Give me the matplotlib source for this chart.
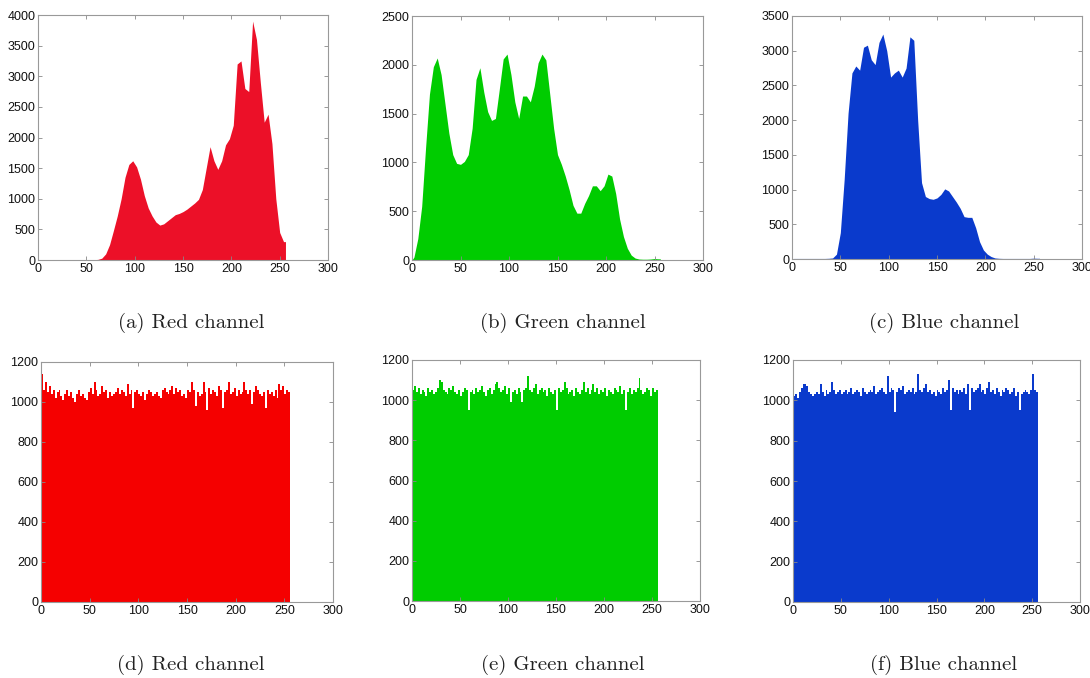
import numpy as np
import matplotlib.pyplot as plt

# Histogramas de la imagen original (bins de 4 niveles)
red_orig = [0, 0, 0, 0, 0, 0, 0, 0, 0, 0, 0, 0, 0, 0, 5, 10,
            30, 100, 250, 480, 720, 1000, 1350, 1560, 1620, 1520, 1320, 1050, 850, 720, 620, 570,
            590, 640, 690, 740, 760, 790, 830, 880, 930, 990, 1150, 1500, 1850, 1620, 1480, 1620,
            1880, 1980, 2200, 3200, 3250, 2800, 2750, 3900, 3600, 2900, 2250, 2380, 1900, 1000, 450, 300]

green_orig = [30, 220, 550, 1150, 1700, 1980, 2070, 1900, 1600, 1300, 1080, 990, 980, 1010, 1080, 1350,
              1850, 1970, 1720, 1520, 1430, 1450, 1750, 2060, 2110, 1900, 1620, 1450, 1680, 1680, 1620, 1780,
              2020, 2110, 2050, 1700, 1350, 1080, 980, 860, 720, 560, 480, 480, 580, 660, 760, 760,
              710, 760, 880, 860, 680, 420, 240, 120, 50, 20, 10, 8, 8, 10, 15, 12]

blue_orig = [8, 8, 8, 8, 8, 8, 8, 8, 8, 10, 15, 70, 380, 1150, 2100, 2680,
             2780, 2720, 3050, 3080, 2870, 2800, 3120, 3240, 3000, 2620, 2680, 2720, 2620, 2750, 3200, 3150,
             2000, 1100, 900, 870, 860, 880, 930, 1010, 980, 900, 820, 730, 610, 600, 600, 450,
             250, 130, 70, 35, 15, 10, 8, 8, 8, 8, 8, 8, 8, 8, 12, 10]

# Histogramas de la imagen cifrada (bins de 2 niveles)
red_enc = [1140, 1060, 1100, 1050, 1080, 1040, 1060, 1020, 1050, 1060, 1030, 1010, 1040, 1060, 1030, 1050,
           1020, 1000, 1040, 1060, 1030, 1040, 1020, 1010, 1050, 1070, 1040, 1100, 1060, 1030, 1040, 1080,
           1050, 1060, 1020, 1050, 1030, 1040, 1050, 1070, 1040, 1060, 1050, 1030, 1090, 1040, 1060, 970,
           1050, 1060, 1040, 1030, 1050, 1010, 1040, 1060, 1050, 1030, 1040, 1050, 1030, 1020, 1060, 1070,
           1050, 1040, 1060, 1080, 1040, 1070, 1050, 1060, 1030, 1040, 1020, 1060, 1050, 1100, 1060, 980,
           1050, 1030, 1040, 1100, 1050, 960, 1070, 1040, 1060, 1050, 1030, 1080, 1060, 970, 1050, 1060,
           1100, 1040, 1050, 1070, 1030, 1060, 1040, 1050, 1100, 1060, 1040, 1060, 990, 1050, 1080, 1060,
           1040, 1030, 1050, 970, 1060, 1040, 1050, 1030, 1060, 1020, 1090, 1060, 1080, 1040, 1060, 1050]

green_enc = [1050, 1070, 1040, 1060, 1030, 1050, 1040, 1020, 1060, 1040, 1050, 1030, 1040, 1060, 1100, 1090,
             1050, 1040, 1030, 1060, 1050, 1070, 1040, 1030, 1050, 1020, 1040, 1060, 1050, 950, 1040, 1050,
             1030, 1060, 1040, 1050, 1070, 1040, 1020, 1050, 1060, 1030, 1050, 1080, 1090, 1060, 1040, 1050,
             1070, 1030, 1060, 990, 1040, 1050, 1030, 1060, 1040, 990, 1050, 1060, 1120, 1050, 1040, 1060,
             1080, 1030, 1050, 1060, 1040, 1050, 1020, 1060, 1040, 1030, 1050, 950, 1060, 1040, 1050, 1090,
             1060, 1030, 1040, 1050, 1020, 1060, 1040, 1030, 1050, 1090, 1040, 1060, 1030, 1050, 1080, 1040,
             1060, 1030, 1050, 1040, 1060, 1020, 1050, 1040, 1030, 1060, 1050, 1040, 1070, 1030, 1050, 950,
             1040, 1060, 1030, 1050, 1040, 1060, 1110, 1050, 1030, 1040, 1060, 1050, 1020, 1060, 1040, 1050]

blue_enc = [1020, 1030, 1010, 1040, 1060, 1080, 1080, 1070, 1040, 1030, 1020, 1030, 1040, 1030, 1080, 1040,
            1020, 1050, 1030, 1040, 1090, 1050, 1030, 1040, 1050, 1030, 1040, 1050, 1030, 1040, 1060, 1030,
            1040, 1050, 1040, 1020, 1060, 1040, 1030, 1040, 1050, 1040, 1070, 1030, 1040, 1050, 1060, 1040,
            1030, 1120, 1040, 1060, 1050, 940, 1040, 1060, 1050, 1070, 1030, 1040, 1050, 1040, 1060, 1030,
            1040, 1130, 1050, 1040, 1060, 1080, 1040, 1050, 1030, 1040, 1020, 1050, 1040, 1030, 1060, 1040,
            1050, 1100, 950, 1060, 1040, 1050, 1030, 1050, 1040, 1060, 1030, 1080, 950, 1060, 1040, 1050,
            1060, 1080, 1040, 1050, 1030, 1060, 1090, 1040, 1050, 1030, 1060, 1040, 1020, 1050, 1040, 1060,
            1050, 1030, 1040, 1060, 1020, 1040, 950, 1030, 1040, 1050, 1040, 1030, 1050, 1130, 1050, 1040]

captions = ['(a) Red channel', '(b) Green channel', '(c) Blue channel',
            '(d) Red channel', '(e) Green channel', '(f) Blue channel']
colors = ['#ec1028', '#00cc00', '#0a3acc', '#f50000', '#00cc00', '#0a3acc']
series = [red_orig, green_orig, blue_orig, red_enc, green_enc, blue_enc]
ytops = [4000, 2500, 3500, 1200, 1200, 1200]
ysteps = [500, 500, 500, 200, 200, 200]

# posiciones de los ejes en píxeles (izq, der, arriba, abajo)
boxes = [(38, 328, 15, 260), (412, 703, 16, 260), (792, 1082, 16, 259),
         (41, 333, 362, 602), (412, 700, 360, 601), (793, 1080, 360, 602)]
cap_pos = [(191, 323), (563, 323), (944, 323), (191, 665), (563, 665), (944, 665)]

W, H = 1090, 678
fig = plt.figure(figsize=(W / 100, H / 100), dpi=100)

for i in range(6):
    l, r, t, b = boxes[i]
    ax = fig.add_axes([l / W, 1 - b / H, (r - l) / W, (b - t) / H])
    vals = np.array(series[i], dtype=float)
    w = 256 / len(vals)
    x = np.arange(len(vals)) * w
    if i < 3:
        # arriba: área por los centros de cada bin, corte vertical en 256
        xc = np.concatenate([[0], x + w / 2, [256, 256]])
        yc = np.concatenate([[0], vals, [vals[-1], 0]])
        ax.fill_between(xc, yc, 0, color=colors[i], linewidth=0)
    else:
        ax.bar(x, vals, width=w, align='edge', color=colors[i], edgecolor='none', linewidth=0)
    ax.set_xlim(0, 300)
    ax.set_ylim(0, ytops[i])
    ax.set_xticks(np.arange(0, 301, 50))
    ax.set_yticks(np.arange(0, ytops[i] + 1, ysteps[i]))
    ax.tick_params(direction='in', length=3, width=0.6, color='#888888', top=True, right=True,
                   labelsize=9, labelcolor='#111111', pad=2)
    for lab in ax.get_xticklabels() + ax.get_yticklabels():
        lab.set_fontfamily('Liberation Sans')
    for s in ax.spines.values():
        s.set_color('#999999')
        s.set_linewidth(0.8)
    cx, cy = cap_pos[i]
    fig.text(cx / W, 1 - cy / H, captions[i], ha='center', va='center',
             fontsize=15, family='cmr10', color='#222222')

fig.savefig('out.png', dpi=100, facecolor='white')
